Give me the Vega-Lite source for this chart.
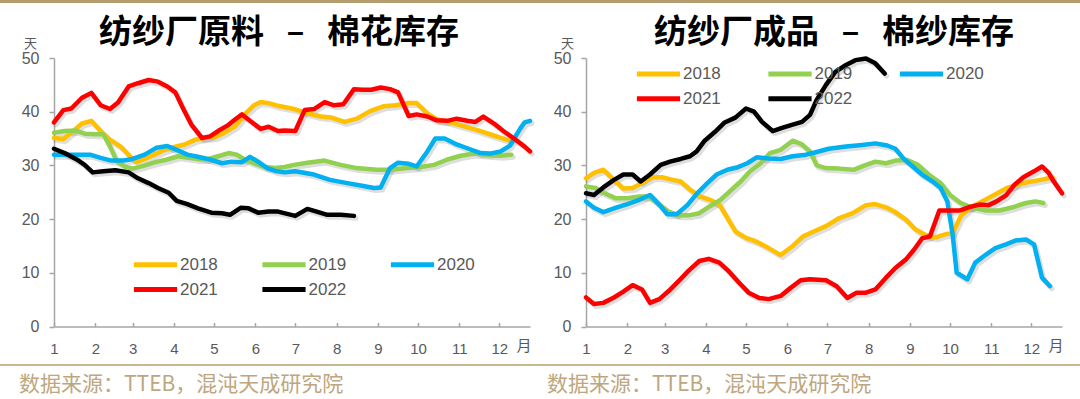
{
  "$schema": "https://vega.github.io/schema/vega-lite/v6.json",
  "padding": {"left": 0, "top": 0, "right": 0, "bottom": 4},
  "background": "white",
  "spacing": 14,
  "config": {
    "view": {"stroke": null},
    "font": "Liberation Sans",
    "axis": {"grid": false}
  },
  "datasets": {
    "raw": [
      {"year":"2018","d":0,"v":35.1},{"year":"2018","d":7,"v":34.9},{"year":"2018","d":13,"v":36.1},{"year":"2018","d":21,"v":37.8},{"year":"2018","d":28,"v":38.3},{"year":"2018","d":35,"v":36.4},{"year":"2018","d":42,"v":34.8},{"year":"2018","d":50,"v":33.5},{"year":"2018","d":57,"v":31.7},{"year":"2018","d":62,"v":30.6},{"year":"2018","d":68,"v":31.2},{"year":"2018","d":76,"v":32.1},{"year":"2018","d":83,"v":32.9},{"year":"2018","d":91,"v":33.5},{"year":"2018","d":98,"v":33.9},{"year":"2018","d":106,"v":34.8},{"year":"2018","d":113,"v":35.1},{"year":"2018","d":121,"v":35.3},{"year":"2018","d":128,"v":36.1},{"year":"2018","d":136,"v":37.3},{"year":"2018","d":143,"v":39.5},{"year":"2018","d":150,"v":41.2},{"year":"2018","d":155,"v":41.8},{"year":"2018","d":161,"v":41.6},{"year":"2018","d":168,"v":41.1},{"year":"2018","d":180,"v":40.5},{"year":"2018","d":190,"v":39.7},{"year":"2018","d":200,"v":39.1},{"year":"2018","d":208,"v":38.9},{"year":"2018","d":218,"v":38.1},{"year":"2018","d":227,"v":38.7},{"year":"2018","d":237,"v":40.1},{"year":"2018","d":247,"v":41.0},{"year":"2018","d":256,"v":41.2},{"year":"2018","d":265,"v":41.6},{"year":"2018","d":272,"v":41.6},{"year":"2018","d":280,"v":39.7},{"year":"2018","d":287,"v":38.6},{"year":"2018","d":297,"v":38.0},{"year":"2018","d":307,"v":37.3},{"year":"2018","d":317,"v":36.6},{"year":"2018","d":327,"v":35.8},{"year":"2018","d":337,"v":35.0},{"year":"2018","d":342,"v":34.6},
      {"year":"2019","d":0,"v":36.1},{"year":"2019","d":8,"v":36.4},{"year":"2019","d":16,"v":36.5},{"year":"2019","d":23,"v":35.9},{"year":"2019","d":31,"v":35.8},{"year":"2019","d":37,"v":35.8},{"year":"2019","d":42,"v":33.5},{"year":"2019","d":47,"v":30.8},{"year":"2019","d":53,"v":29.8},{"year":"2019","d":59,"v":29.4},{"year":"2019","d":67,"v":29.9},{"year":"2019","d":76,"v":30.6},{"year":"2019","d":85,"v":31.1},{"year":"2019","d":93,"v":31.7},{"year":"2019","d":101,"v":31.4},{"year":"2019","d":108,"v":31.2},{"year":"2019","d":116,"v":31.2},{"year":"2019","d":123,"v":31.7},{"year":"2019","d":131,"v":32.3},{"year":"2019","d":137,"v":32.0},{"year":"2019","d":143,"v":31.1},{"year":"2019","d":151,"v":30.3},{"year":"2019","d":158,"v":29.7},{"year":"2019","d":166,"v":29.5},{"year":"2019","d":173,"v":29.7},{"year":"2019","d":180,"v":30.1},{"year":"2019","d":190,"v":30.5},{"year":"2019","d":203,"v":30.9},{"year":"2019","d":215,"v":30.1},{"year":"2019","d":227,"v":29.5},{"year":"2019","d":242,"v":29.2},{"year":"2019","d":252,"v":29.2},{"year":"2019","d":265,"v":29.5},{"year":"2019","d":275,"v":29.7},{"year":"2019","d":285,"v":30.1},{"year":"2019","d":295,"v":31.1},{"year":"2019","d":305,"v":31.8},{"year":"2019","d":315,"v":32.2},{"year":"2019","d":325,"v":32.0},{"year":"2019","d":335,"v":31.8},{"year":"2019","d":343,"v":32.0},
      {"year":"2020","d":0,"v":32.0},{"year":"2020","d":8,"v":32.0},{"year":"2020","d":18,"v":32.0},{"year":"2020","d":27,"v":32.0},{"year":"2020","d":35,"v":31.4},{"year":"2020","d":43,"v":30.9},{"year":"2020","d":52,"v":30.9},{"year":"2020","d":59,"v":31.2},{"year":"2020","d":68,"v":32.0},{"year":"2020","d":77,"v":33.3},{"year":"2020","d":85,"v":33.6},{"year":"2020","d":92,"v":32.9},{"year":"2020","d":100,"v":32.0},{"year":"2020","d":108,"v":31.6},{"year":"2020","d":117,"v":31.1},{"year":"2020","d":126,"v":30.4},{"year":"2020","d":133,"v":30.7},{"year":"2020","d":141,"v":30.6},{"year":"2020","d":147,"v":31.6},{"year":"2020","d":153,"v":30.7},{"year":"2020","d":160,"v":29.5},{"year":"2020","d":167,"v":28.9},{"year":"2020","d":173,"v":28.7},{"year":"2020","d":181,"v":28.9},{"year":"2020","d":195,"v":28.3},{"year":"2020","d":207,"v":27.3},{"year":"2020","d":220,"v":26.7},{"year":"2020","d":231,"v":26.2},{"year":"2020","d":240,"v":25.8},{"year":"2020","d":245,"v":25.9},{"year":"2020","d":252,"v":29.5},{"year":"2020","d":258,"v":30.5},{"year":"2020","d":266,"v":30.3},{"year":"2020","d":272,"v":29.8},{"year":"2020","d":280,"v":32.6},{"year":"2020","d":286,"v":35.0},{"year":"2020","d":293,"v":35.0},{"year":"2020","d":302,"v":33.9},{"year":"2020","d":311,"v":33.1},{"year":"2020","d":320,"v":32.3},{"year":"2020","d":327,"v":32.2},{"year":"2020","d":335,"v":32.6},{"year":"2020","d":342,"v":33.7},{"year":"2020","d":350,"v":37.0},{"year":"2020","d":353,"v":38.0},{"year":"2020","d":357,"v":38.3},
      {"year":"2021","d":0,"v":38.0},{"year":"2021","d":7,"v":40.3},{"year":"2021","d":13,"v":40.6},{"year":"2021","d":21,"v":42.6},{"year":"2021","d":28,"v":43.5},{"year":"2021","d":35,"v":41.2},{"year":"2021","d":42,"v":40.5},{"year":"2021","d":48,"v":41.7},{"year":"2021","d":56,"v":44.7},{"year":"2021","d":63,"v":45.3},{"year":"2021","d":71,"v":45.9},{"year":"2021","d":78,"v":45.6},{"year":"2021","d":85,"v":44.7},{"year":"2021","d":91,"v":43.6},{"year":"2021","d":97,"v":40.5},{"year":"2021","d":103,"v":37.6},{"year":"2021","d":111,"v":35.1},{"year":"2021","d":117,"v":35.4},{"year":"2021","d":123,"v":36.4},{"year":"2021","d":130,"v":37.4},{"year":"2021","d":136,"v":38.6},{"year":"2021","d":141,"v":39.5},{"year":"2021","d":147,"v":38.3},{"year":"2021","d":155,"v":36.8},{"year":"2021","d":161,"v":37.2},{"year":"2021","d":168,"v":36.4},{"year":"2021","d":173,"v":36.5},{"year":"2021","d":181,"v":36.4},{"year":"2021","d":188,"v":40.3},{"year":"2021","d":195,"v":40.5},{"year":"2021","d":203,"v":41.8},{"year":"2021","d":210,"v":41.2},{"year":"2021","d":217,"v":41.4},{"year":"2021","d":225,"v":44.2},{"year":"2021","d":232,"v":44.1},{"year":"2021","d":238,"v":44.1},{"year":"2021","d":245,"v":44.5},{"year":"2021","d":252,"v":44.2},{"year":"2021","d":258,"v":43.6},{"year":"2021","d":266,"v":39.2},{"year":"2021","d":272,"v":39.5},{"year":"2021","d":280,"v":39.1},{"year":"2021","d":287,"v":38.4},{"year":"2021","d":295,"v":38.3},{"year":"2021","d":302,"v":38.7},{"year":"2021","d":310,"v":38.3},{"year":"2021","d":316,"v":38.1},{"year":"2021","d":322,"v":39.1},{"year":"2021","d":330,"v":37.8},{"year":"2021","d":337,"v":36.4},{"year":"2021","d":345,"v":35.0},{"year":"2021","d":353,"v":33.5},{"year":"2021","d":357,"v":32.6},
      {"year":"2022","d":0,"v":33.1},{"year":"2022","d":8,"v":32.3},{"year":"2022","d":17,"v":31.1},{"year":"2022","d":23,"v":30.1},{"year":"2022","d":29,"v":28.7},{"year":"2022","d":37,"v":28.9},{"year":"2022","d":46,"v":29.1},{"year":"2022","d":56,"v":28.7},{"year":"2022","d":63,"v":27.6},{"year":"2022","d":71,"v":26.7},{"year":"2022","d":78,"v":25.8},{"year":"2022","d":86,"v":24.9},{"year":"2022","d":92,"v":23.4},{"year":"2022","d":100,"v":22.8},{"year":"2022","d":108,"v":22.0},{"year":"2022","d":118,"v":21.2},{"year":"2022","d":126,"v":21.1},{"year":"2022","d":132,"v":20.8},{"year":"2022","d":140,"v":22.1},{"year":"2022","d":146,"v":22.0},{"year":"2022","d":153,"v":21.2},{"year":"2022","d":161,"v":21.4},{"year":"2022","d":168,"v":21.4},{"year":"2022","d":181,"v":20.6},{"year":"2022","d":190,"v":21.9},{"year":"2022","d":197,"v":21.4},{"year":"2022","d":205,"v":20.8},{"year":"2022","d":215,"v":20.8},{"year":"2022","d":225,"v":20.6}
    ],
    "yarn": [
      {"year":"2018","d":0,"v":27.6},{"year":"2018","d":6,"v":28.6},{"year":"2018","d":13,"v":29.2},{"year":"2018","d":21,"v":27.3},{"year":"2018","d":28,"v":25.7},{"year":"2018","d":35,"v":25.8},{"year":"2018","d":42,"v":26.7},{"year":"2018","d":50,"v":27.8},{"year":"2018","d":57,"v":27.8},{"year":"2018","d":65,"v":27.3},{"year":"2018","d":71,"v":27.0},{"year":"2018","d":78,"v":25.5},{"year":"2018","d":86,"v":24.2},{"year":"2018","d":93,"v":23.6},{"year":"2018","d":100,"v":22.7},{"year":"2018","d":106,"v":20.2},{"year":"2018","d":112,"v":17.7},{"year":"2018","d":120,"v":16.5},{"year":"2018","d":128,"v":15.8},{"year":"2018","d":137,"v":14.6},{"year":"2018","d":146,"v":13.3},{"year":"2018","d":155,"v":15.0},{"year":"2018","d":163,"v":16.8},{"year":"2018","d":170,"v":17.6},{"year":"2018","d":180,"v":18.7},{"year":"2018","d":190,"v":20.2},{"year":"2018","d":200,"v":21.1},{"year":"2018","d":210,"v":22.6},{"year":"2018","d":217,"v":22.8},{"year":"2018","d":225,"v":22.2},{"year":"2018","d":232,"v":21.3},{"year":"2018","d":240,"v":19.9},{"year":"2018","d":247,"v":18.1},{"year":"2018","d":255,"v":17.0},{"year":"2018","d":262,"v":16.6},{"year":"2018","d":270,"v":17.2},{"year":"2018","d":275,"v":17.4},{"year":"2018","d":281,"v":20.5},{"year":"2018","d":288,"v":22.1},{"year":"2018","d":297,"v":23.3},{"year":"2018","d":306,"v":24.5},{"year":"2018","d":315,"v":25.7},{"year":"2018","d":323,"v":26.4},{"year":"2018","d":332,"v":26.9},{"year":"2018","d":341,"v":27.3},{"year":"2018","d":350,"v":27.8},
      {"year":"2019","d":0,"v":26.1},{"year":"2019","d":7,"v":25.8},{"year":"2019","d":14,"v":24.8},{"year":"2019","d":22,"v":23.9},{"year":"2019","d":31,"v":23.9},{"year":"2019","d":40,"v":24.2},{"year":"2019","d":47,"v":24.2},{"year":"2019","d":55,"v":22.7},{"year":"2019","d":62,"v":21.4},{"year":"2019","d":70,"v":20.7},{"year":"2019","d":77,"v":20.7},{"year":"2019","d":85,"v":21.1},{"year":"2019","d":93,"v":22.4},{"year":"2019","d":101,"v":23.6},{"year":"2019","d":108,"v":25.2},{"year":"2019","d":116,"v":27.0},{"year":"2019","d":123,"v":28.9},{"year":"2019","d":131,"v":30.4},{"year":"2019","d":138,"v":32.3},{"year":"2019","d":146,"v":32.9},{"year":"2019","d":155,"v":34.6},{"year":"2019","d":162,"v":33.9},{"year":"2019","d":168,"v":32.6},{"year":"2019","d":173,"v":30.0},{"year":"2019","d":180,"v":29.5},{"year":"2019","d":190,"v":29.4},{"year":"2019","d":201,"v":29.2},{"year":"2019","d":210,"v":30.1},{"year":"2019","d":217,"v":30.7},{"year":"2019","d":225,"v":30.4},{"year":"2019","d":232,"v":30.9},{"year":"2019","d":241,"v":31.0},{"year":"2019","d":249,"v":30.1},{"year":"2019","d":257,"v":28.3},{"year":"2019","d":266,"v":26.7},{"year":"2019","d":273,"v":24.5},{"year":"2019","d":281,"v":23.0},{"year":"2019","d":290,"v":22.1},{"year":"2019","d":300,"v":21.6},{"year":"2019","d":310,"v":21.6},{"year":"2019","d":320,"v":22.2},{"year":"2019","d":330,"v":23.0},{"year":"2019","d":337,"v":23.3},{"year":"2019","d":343,"v":23.0},
      {"year":"2020","d":0,"v":23.3},{"year":"2020","d":6,"v":22.1},{"year":"2020","d":13,"v":21.3},{"year":"2020","d":22,"v":22.1},{"year":"2020","d":31,"v":22.8},{"year":"2020","d":40,"v":23.6},{"year":"2020","d":48,"v":24.5},{"year":"2020","d":55,"v":22.7},{"year":"2020","d":61,"v":20.9},{"year":"2020","d":68,"v":20.9},{"year":"2020","d":76,"v":22.6},{"year":"2020","d":83,"v":24.7},{"year":"2020","d":91,"v":26.7},{"year":"2020","d":98,"v":28.3},{"year":"2020","d":106,"v":29.2},{"year":"2020","d":113,"v":29.6},{"year":"2020","d":121,"v":30.4},{"year":"2020","d":128,"v":31.5},{"year":"2020","d":137,"v":31.3},{"year":"2020","d":146,"v":31.2},{"year":"2020","d":155,"v":31.7},{"year":"2020","d":165,"v":32.0},{"year":"2020","d":173,"v":32.5},{"year":"2020","d":182,"v":33.1},{"year":"2020","d":195,"v":33.5},{"year":"2020","d":207,"v":33.8},{"year":"2020","d":217,"v":34.1},{"year":"2020","d":226,"v":33.7},{"year":"2020","d":232,"v":33.1},{"year":"2020","d":238,"v":31.3},{"year":"2020","d":245,"v":29.8},{"year":"2020","d":252,"v":28.3},{"year":"2020","d":260,"v":27.0},{"year":"2020","d":266,"v":25.8},{"year":"2020","d":271,"v":23.3},{"year":"2020","d":275,"v":17.1},{"year":"2020","d":278,"v":10.0},{"year":"2020","d":286,"v":8.8},{"year":"2020","d":292,"v":11.9},{"year":"2020","d":300,"v":13.4},{"year":"2020","d":307,"v":14.6},{"year":"2020","d":315,"v":15.3},{"year":"2020","d":322,"v":16.0},{"year":"2020","d":330,"v":16.2},{"year":"2020","d":336,"v":15.3},{"year":"2020","d":342,"v":9.1},{"year":"2020","d":348,"v":7.5},
      {"year":"2021","d":0,"v":5.4},{"year":"2021","d":6,"v":4.2},{"year":"2021","d":13,"v":4.4},{"year":"2021","d":21,"v":5.4},{"year":"2021","d":28,"v":6.5},{"year":"2021","d":35,"v":7.7},{"year":"2021","d":42,"v":6.9},{"year":"2021","d":48,"v":4.4},{"year":"2021","d":55,"v":5.1},{"year":"2021","d":62,"v":6.6},{"year":"2021","d":70,"v":8.6},{"year":"2021","d":77,"v":10.4},{"year":"2021","d":85,"v":12.2},{"year":"2021","d":92,"v":12.6},{"year":"2021","d":100,"v":11.9},{"year":"2021","d":107,"v":10.3},{"year":"2021","d":115,"v":8.1},{"year":"2021","d":122,"v":6.3},{"year":"2021","d":130,"v":5.3},{"year":"2021","d":137,"v":5.1},{"year":"2021","d":146,"v":5.7},{"year":"2021","d":153,"v":7.1},{"year":"2021","d":161,"v":8.6},{"year":"2021","d":168,"v":8.8},{"year":"2021","d":180,"v":8.6},{"year":"2021","d":188,"v":7.5},{"year":"2021","d":196,"v":5.3},{"year":"2021","d":203,"v":6.3},{"year":"2021","d":210,"v":6.3},{"year":"2021","d":217,"v":6.9},{"year":"2021","d":225,"v":9.1},{"year":"2021","d":232,"v":10.9},{"year":"2021","d":240,"v":12.5},{"year":"2021","d":246,"v":14.3},{"year":"2021","d":252,"v":16.4},{"year":"2021","d":258,"v":16.8},{"year":"2021","d":265,"v":21.6},{"year":"2021","d":272,"v":21.6},{"year":"2021","d":280,"v":21.6},{"year":"2021","d":287,"v":22.2},{"year":"2021","d":295,"v":22.7},{"year":"2021","d":302,"v":22.6},{"year":"2021","d":308,"v":23.3},{"year":"2021","d":315,"v":24.4},{"year":"2021","d":321,"v":26.3},{"year":"2021","d":328,"v":27.8},{"year":"2021","d":336,"v":28.9},{"year":"2021","d":342,"v":29.8},{"year":"2021","d":347,"v":28.6},{"year":"2021","d":350,"v":27.3},{"year":"2021","d":357,"v":24.8},
      {"year":"2022","d":0,"v":24.8},{"year":"2022","d":6,"v":24.5},{"year":"2022","d":13,"v":25.9},{"year":"2022","d":21,"v":27.3},{"year":"2022","d":28,"v":28.3},{"year":"2022","d":35,"v":28.3},{"year":"2022","d":41,"v":27.0},{"year":"2022","d":48,"v":28.3},{"year":"2022","d":56,"v":30.1},{"year":"2022","d":63,"v":30.7},{"year":"2022","d":71,"v":31.2},{"year":"2022","d":78,"v":31.7},{"year":"2022","d":83,"v":32.6},{"year":"2022","d":89,"v":34.6},{"year":"2022","d":97,"v":36.3},{"year":"2022","d":104,"v":38.0},{"year":"2022","d":112,"v":38.9},{"year":"2022","d":120,"v":40.6},{"year":"2022","d":126,"v":40.0},{"year":"2022","d":132,"v":38.1},{"year":"2022","d":140,"v":36.4},{"year":"2022","d":147,"v":37.0},{"year":"2022","d":155,"v":37.6},{"year":"2022","d":162,"v":38.1},{"year":"2022","d":168,"v":39.4},{"year":"2022","d":173,"v":42.2},{"year":"2022","d":180,"v":45.0},{"year":"2022","d":187,"v":47.4},{"year":"2022","d":195,"v":48.7},{"year":"2022","d":202,"v":49.6},{"year":"2022","d":210,"v":49.9},{"year":"2022","d":217,"v":49.0},{"year":"2022","d":224,"v":47.1}
    ]
  },
  "vconcat": [
    {
      "width": 1080,
      "height": 3,
      "data": {"values": [{}]},
      "mark": {"type": "rect", "color": "#B39D6E"},
      "encoding": {}
    },
    {
      "spacing": 8,
      "vconcat": [
        {
          "spacing": 0,
          "hconcat": [
            {
              "width": 21,
              "height": 1,
              "data": {"values": [{}]},
              "mark": {"type": "rect", "opacity": 0},
              "encoding": {}
            },
            {
              "spacing": 18,
              "resolve": {"scale": {"x": "independent", "y": "independent", "color": "independent"}, "legend": {"color": "independent"}},
              "hconcat": [
                {
                  "width": 476,
                  "height": 268.5,
                  "title": {"text": "纺纱厂原料\u00a0\u00a0\u00a0–\u00a0\u00a0\u00a0棉花库存", "font": "Noto Sans CJK SC", "fontSize": 33, "fontWeight": "bold", "color": "#000000", "anchor": "middle", "frame": "group", "baseline": "bottom", "offset": -31.5, "dx": -13, "dy": 14.5},
                  "data": {"name": "raw"},
                  "layer": [
                    {
                      "mark": {"type": "line", "strokeWidth": 5, "color": "#000000", "opacity": 0.13, "xOffset": 2, "yOffset": 2.5, "strokeJoin": "round", "strokeCap": "round"},
                      "encoding": {
                        "x": {"field": "d", "type": "quantitative"},
                        "y": {"field": "v", "type": "quantitative"},
                        "detail": {"field": "year"}
                      }
                    },
                    {
                      "mark": {"type": "line", "strokeWidth": 4.5, "strokeJoin": "round", "strokeCap": "round"},
                      "encoding": {
                        "x": {"field": "d", "type": "quantitative", "scale": {"domain": [0, 357], "nice": false, "zero": false},
                          "axis": {"title": null,
                            "values": [0,31,59,90,120,151,181,212,243,273,304,334], "labelExpr": "indexof([0,31,59,90,120,151,181,212,243,273,304,334], datum.value) + 1",
                            "tickSize": -4, "labelPadding": 18.5, "labelFontSize": 15, "labelColor": "#595959", "labelFont": "Liberation Sans", "labelFlush": false, "labelOverlap": false,
                            "domainColor": "#A6A6A6", "domainWidth": 1.5, "tickColor": "#A6A6A6", "tickWidth": 1.5}},
                        "y": {"field": "v", "type": "quantitative", "scale": {"domain": [0, 50], "nice": false},
                          "axis": {"title": "天", "titleAngle": 0, "titleX": -24, "titleY": -15, "titleAlign": "center", "titleBaseline": "middle", "titleFont": "Noto Sans CJK SC", "titleFontSize": 13, "titleFontWeight": "normal", "titleColor": "#595959",
                            "values": [0,10,20,30,40,50], "tickSize": 5, "labelPadding": 10, "labelFontSize": 16, "labelColor": "#595959", "labelFont": "Liberation Sans",
                            "domainColor": "#A6A6A6", "domainWidth": 1.5, "tickColor": "#A6A6A6", "tickWidth": 1.5}},
                        "color": {"field": "year", "type": "nominal",
                          "scale": {"domain": ["2018","2019","2020","2021","2022"], "range": ["#FFC000","#92D050","#00B0F0","#FF0000","#000000"]},
                          "legend": {"title": null, "orient": "none", "legendX": 87, "legendY": 192, "columns": 3, "direction": "horizontal", "symbolType": "M-1.8,0L1.8,0", "symbolSize": 576, "symbolStrokeWidth": 5, "labelFontSize": 17, "labelColor": "#595959", "labelFont": "Liberation Sans", "columnPadding": 33.5, "rowPadding": 0, "labelOffset": 10}}
                      }
                    },
                    {
                      "data": {"values": [{}]},
                      "mark": {"type": "text", "text": "月", "font": "Noto Sans CJK SC", "fontSize": 15, "color": "#595959", "align": "center", "baseline": "middle"},
                      "encoding": {"x": {"datum": 352.5, "type": "quantitative"}, "y": {"datum": -3.6, "type": "quantitative"}}
                    }
                  ]
                },
                {
                  "width": 476,
                  "height": 268.5,
                  "title": {"text": "纺纱厂成品\u00a0\u00a0\u00a0–\u00a0\u00a0\u00a0棉纱库存", "font": "Noto Sans CJK SC", "fontSize": 33, "fontWeight": "bold", "color": "#000000", "anchor": "middle", "frame": "group", "baseline": "bottom", "offset": -31.5, "dx": 10, "dy": 14.5},
                  "data": {"name": "yarn"},
                  "layer": [
                    {
                      "mark": {"type": "line", "strokeWidth": 5, "color": "#000000", "opacity": 0.13, "xOffset": 2, "yOffset": 2.5, "strokeJoin": "round", "strokeCap": "round"},
                      "encoding": {
                        "x": {"field": "d", "type": "quantitative"},
                        "y": {"field": "v", "type": "quantitative"},
                        "detail": {"field": "year"}
                      }
                    },
                    {
                      "mark": {"type": "line", "strokeWidth": 4.5, "strokeJoin": "round", "strokeCap": "round"},
                      "encoding": {
                        "x": {"field": "d", "type": "quantitative", "scale": {"domain": [0, 357], "nice": false, "zero": false},
                          "axis": {"title": null,
                            "values": [0,31,59,90,120,151,181,212,243,273,304,334], "labelExpr": "indexof([0,31,59,90,120,151,181,212,243,273,304,334], datum.value) + 1",
                            "tickSize": -4, "labelPadding": 18.5, "labelFontSize": 15, "labelColor": "#595959", "labelFont": "Liberation Sans", "labelFlush": false, "labelOverlap": false,
                            "domainColor": "#A6A6A6", "domainWidth": 1.5, "tickColor": "#A6A6A6", "tickWidth": 1.5}},
                        "y": {"field": "v", "type": "quantitative", "scale": {"domain": [0, 50], "nice": false},
                          "axis": {"title": "天", "titleAngle": 0, "titleX": -19, "titleY": -15, "titleAlign": "center", "titleBaseline": "middle", "titleFont": "Noto Sans CJK SC", "titleFontSize": 13, "titleFontWeight": "normal", "titleColor": "#595959",
                            "values": [0,10,20,30,40,50], "tickSize": 5, "labelPadding": 10, "labelFontSize": 16, "labelColor": "#595959", "labelFont": "Liberation Sans",
                            "domainColor": "#A6A6A6", "domainWidth": 1.5, "tickColor": "#A6A6A6", "tickWidth": 1.5}},
                        "color": {"field": "year", "type": "nominal",
                          "scale": {"domain": ["2018","2019","2020","2021","2022"], "range": ["#FFC000","#92D050","#00B0F0","#FF0000","#000000"]},
                          "legend": {"title": null, "orient": "none", "legendX": 58, "legendY": 1.3, "columns": 3, "direction": "horizontal", "symbolType": "M-1.8,0L1.8,0", "symbolSize": 576, "symbolStrokeWidth": 5, "labelFontSize": 17, "labelColor": "#595959", "labelFont": "Liberation Sans", "columnPadding": 36.5, "rowPadding": 0, "labelOffset": 10}}
                      }
                    },
                    {
                      "data": {"values": [{}]},
                      "mark": {"type": "text", "text": "月", "font": "Noto Sans CJK SC", "fontSize": 15, "color": "#595959", "align": "center", "baseline": "middle"},
                      "encoding": {"x": {"datum": 352.5, "type": "quantitative"}, "y": {"datum": -3.6, "type": "quantitative"}}
                    }
                  ]
                }
              ]
            }
          ]
        },
        {
          "spacing": 0,
          "hconcat": [
            {
              "width": 540,
              "height": 2,
              "data": {"values": [{}]},
              "mark": {"type": "rect", "color": "#C9B58F"},
              "encoding": {},
              "title": {"text": "数据来源：TTEB，混沌天成研究院", "orient": "bottom", "anchor": "start", "frame": "group", "baseline": "top", "offset": 8, "dx": 19, "font": "Noto Sans CJK SC", "fontSize": 21, "fontWeight": "normal", "color": "#BEA67E"}
            },
            {
              "width": 540,
              "height": 2,
              "data": {"values": [{}]},
              "mark": {"type": "rect", "color": "#C9B58F"},
              "encoding": {},
              "title": {"text": "数据来源：TTEB，混沌天成研究院", "orient": "bottom", "anchor": "start", "frame": "group", "baseline": "top", "offset": 8, "dx": 7, "font": "Noto Sans CJK SC", "fontSize": 21, "fontWeight": "normal", "color": "#BEA67E"}
            }
          ]
        }
      ]
    }
  ]
}
